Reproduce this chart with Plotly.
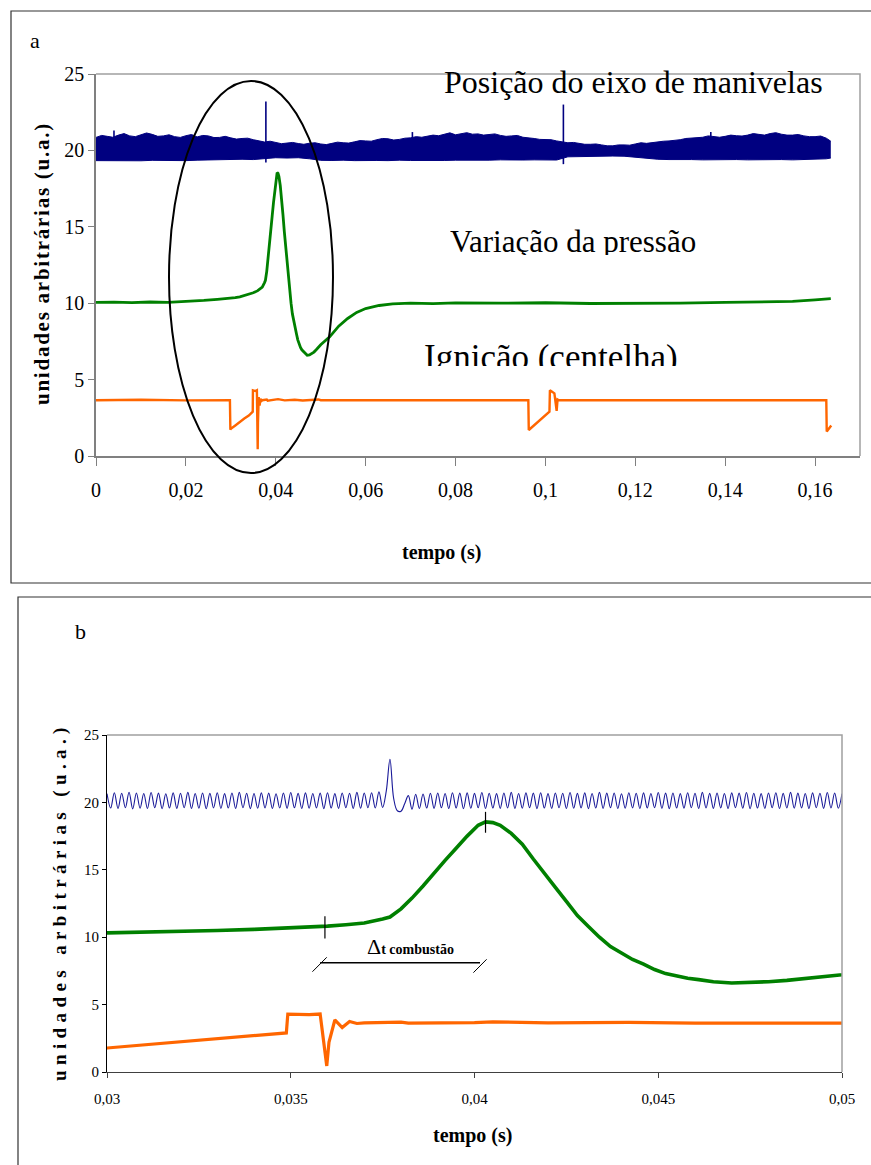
import plotly.graph_objects as go

W, H = 871, 1165

# ---------------- data ----------------
# pressure variation (green), shared by both panels
green_t = [0, 0.004, 0.008, 0.012, 0.016, 0.02, 0.024, 0.027,
           0.03, 0.031, 0.032, 0.033, 0.034, 0.035, 0.036,
           0.0365, 0.037, 0.0375, 0.0377,
           0.038, 0.0383, 0.0386, 0.0389, 0.0392, 0.0395, 0.0398, 0.0401,
           0.0403, 0.0405, 0.0407,
           0.041, 0.0413, 0.0416, 0.0419, 0.0422, 0.0425, 0.0428, 0.0431, 0.0434, 0.0437,
           0.044, 0.0443, 0.0446, 0.0449, 0.0452, 0.0455, 0.0458, 0.0461,
           0.0465, 0.047, 0.0475, 0.048, 0.0485, 0.049, 0.0495, 0.05,
           0.052, 0.054, 0.056, 0.058, 0.06,
           0.063, 0.066, 0.07, 0.075, 0.08,
           0.09, 0.1, 0.11, 0.12, 0.13, 0.14, 0.15,
           0.155, 0.16, 0.1635]
green_v = [10.05, 10.07, 10.04, 10.08, 10.06, 10.1, 10.18, 10.25,
           10.32, 10.36, 10.42, 10.5, 10.58, 10.68, 10.82,
           10.92, 11.05, 11.35, 11.5,
           12.1, 12.9, 13.8, 14.8, 15.7, 16.6, 17.5, 18.3,
           18.55, 18.5, 18.3,
           17.7, 16.9, 15.8, 14.7, 13.7, 12.65, 11.6, 10.8, 10.0, 9.3,
           8.8, 8.35, 8.0, 7.6, 7.3, 7.1, 6.95, 6.85,
           6.7, 6.6, 6.62, 6.7, 6.8, 6.95, 7.1, 7.28,
           7.8, 8.5, 9.0, 9.4, 9.65,
           9.85, 9.95, 10.0, 9.97, 10.02,
           10.0, 10.03, 9.98, 9.97, 10.0, 10.05, 10.1,
           10.12, 10.22, 10.3]

# ignition (orange), shared by both panels
orange_t = [0, 0.01, 0.02, 0.0298, 0.0299,
            0.03, 0.031, 0.032, 0.033, 0.034,
            0.0348, 0.03488, 0.03492, 0.0355, 0.0358,
            0.03592, 0.03598, 0.03604, 0.0362, 0.0364,
            0.0366, 0.0368, 0.037, 0.038, 0.0382,
            0.04, 0.0405, 0.042, 0.0442, 0.046,
            0.048, 0.0495, 0.05, 0.06, 0.08,
            0.0962, 0.0963, 0.1009, 0.1010, 0.1020,
            0.1025, 0.1027, 0.1030, 0.12, 0.14,
            0.1625, 0.1626, 0.1636]
orange_v = [3.65, 3.68, 3.64, 3.65, 1.72,
            1.78, 2.0, 2.25, 2.45, 2.65,
            2.85, 2.9, 4.3, 4.25, 4.3,
            2.0, 0.45, 2.2, 3.86, 3.3,
            3.75, 3.6, 3.65, 3.7, 3.62,
            3.66, 3.72, 3.64, 3.68, 3.63,
            3.65, 3.7, 3.65, 3.66, 3.64,
            3.65, 1.7, 2.9, 4.3, 4.1,
            2.95, 3.7, 3.65, 3.66, 3.64,
            3.65, 1.6, 2.0]

# crankshaft position (top panel): upper envelope of the fast oscillation, every 1.25 ms
env_hi = [20.85, 20.98, 20.92, 20.86, 21.0, 21.1, 20.95, 20.9, 21.02, 21.14,
          21.05, 20.92, 20.95, 21.02, 20.9, 20.85, 20.96, 21.04, 20.88, 20.98,
          20.95, 20.84, 20.85, 20.92, 20.82, 20.74, 20.78, 20.8, 20.7, 20.6,
          20.55, 20.6, 20.52, 20.44, 20.48, 20.52, 20.45, 20.4, 20.47, 20.5,
          20.42, 20.38, 20.46, 20.54, 20.5, 20.48, 20.56, 20.64, 20.62, 20.6,
          20.7, 20.78, 20.76, 20.68, 20.72, 20.8, 20.82, 20.9, 20.86, 20.95,
          21.0, 20.96, 21.06, 21.15, 21.02, 21.1, 21.16, 21.06, 21.08, 21.0,
          21.02, 21.08, 20.98, 20.92, 20.95, 20.98, 20.86, 20.84, 20.78, 20.72,
          20.7, 20.7, 20.62, 20.55, 20.5, 20.52, 20.46, 20.4, 20.4, 20.42,
          20.36, 20.3, 20.3, 20.36, 20.36, 20.34, 20.42, 20.5, 20.46, 20.52,
          20.55, 20.6, 20.62, 20.64, 20.7, 20.78, 20.8, 20.8, 20.86, 20.95,
          20.9, 20.86, 20.92, 21.0, 20.96, 20.94, 21.0, 21.1, 21.05, 21.0,
          21.1, 21.16, 21.06, 21.0, 21.0, 21.04, 20.95, 20.9, 20.9, 20.94,
          20.8, 20.6]
env_hi_t = [0.00125 * i for i in range(131)] + [0.1635]

# lower envelope, every 2.5 ms
env_lo = [19.33, 19.32, 19.34, 19.33, 19.32, 19.35, 19.33, 19.34, 19.33, 19.36,
          19.38, 19.4, 19.4, 19.42, 19.4, 19.45, 19.52, 19.5, 19.52, 19.45,
          19.35, 19.34, 19.36, 19.33, 19.35, 19.34, 19.33, 19.36, 19.34, 19.33,
          19.35, 19.34, 19.36, 19.35, 19.37, 19.36, 19.38, 19.36, 19.37, 19.38,
          19.36, 19.37, 19.58, 19.6, 19.6, 19.62, 19.63, 19.62, 19.55, 19.45,
          19.42, 19.4, 19.42, 19.4, 19.38, 19.4, 19.42, 19.4, 19.38, 19.4,
          19.42, 19.4, 19.38, 19.4, 19.42, 19.45, 19.5]
env_lo_t = [0.0025 * i for i in range(66)] + [0.1635]

# narrow spikes on the crankshaft signal
spike_t = [0.0378, 0.104, 0.004, 0.0704, 0.1368]
spike_lo = [19.2, 19.1, 20.8, 20.8, 20.8]
spike_hi = [23.2, 23.0, 21.3, 21.2, 21.2]

# crankshaft position (bottom panel, zoomed): sampled every 0.1 ms from 0.03 s
blue_b_v = [20.65, 19.58, 20.72, 19.55, 20.68, 19.6, 20.75, 19.52, 20.7, 19.57,
            20.66, 19.55, 20.73, 19.6, 20.69, 19.54, 20.64, 19.58, 20.71, 19.56,
            20.68, 19.6, 20.74, 19.55, 20.66, 19.57, 20.7, 19.53, 20.67, 19.59,
            20.72, 19.56, 20.65, 19.58, 20.7, 19.55, 20.74, 19.6, 20.68, 19.54,
            20.66, 19.57, 20.71, 19.59, 20.69, 19.55, 20.64, 19.58, 20.7, 19.56,
            20.73, 19.6, 20.67, 19.55, 20.71, 19.57, 20.66, 19.59, 20.69, 19.54,
            20.72, 19.58, 20.65, 19.56, 20.7, 19.6, 20.68, 19.55, 20.74, 19.57,
            20.7, 19.6, 20.72, 19.58, 20.78, 19.62, 20.85, 23.2, 20.3, 19.38,
            19.35, 19.9, 20.5, 19.5, 20.6, 19.55, 20.62, 19.58, 20.68, 19.56,
            20.7, 19.6, 20.66, 19.55, 20.72, 19.58, 20.69, 19.54, 20.71, 19.57,
            20.67, 19.6, 20.73, 19.55, 20.68, 19.58, 20.65, 19.56, 20.7, 19.59,
            20.74, 19.55, 20.66, 19.57, 20.71, 19.6, 20.69, 19.54, 20.72, 19.58,
            20.65, 19.56, 20.7, 19.6, 20.68, 19.55, 20.73, 19.57, 20.67, 19.59,
            20.71, 19.54, 20.66, 19.58, 20.74, 19.56, 20.69, 19.6, 20.7, 19.55,
            20.64, 19.57, 20.72, 19.59, 20.68, 19.55, 20.71, 19.58, 20.66, 19.6,
            20.73, 19.56, 20.69, 19.54, 20.7, 19.58, 20.65, 19.57, 20.72, 19.6,
            20.68, 19.55, 20.74, 19.58, 20.67, 19.56, 20.7, 19.59, 20.66, 19.55,
            20.71, 19.6, 20.69, 19.57, 20.73, 19.54, 20.68, 19.58, 20.65, 19.56,
            20.7, 19.6, 20.72, 19.55, 20.67, 19.58, 20.74, 19.57, 20.69, 19.59,
            20.66, 19.55, 20.71, 19.6, 20.68, 19.56, 20.73, 19.58, 20.7, 19.57,
            20.65]
blue_b_t = [0.03 + 0.0001 * i for i in range(len(blue_b_v))]

# axis ticks
top_xticks = [0, 0.02, 0.04, 0.06, 0.08, 0.1, 0.12, 0.14, 0.16]
top_xlabels = ["0", "0,02", "0,04", "0,06", "0,08", "0,1", "0,12", "0,14", "0,16"]
bot_xticks = [0.03, 0.035, 0.04, 0.045, 0.05]
bot_xlabels = ["0,03", "0,035", "0,04", "0,045", "0,05"]
yticks = [0, 5, 10, 15, 20, 25]

# combustion interval markers (bottom panel)
comb_start = (0.03593, 10.85)
comb_peak = (0.0403, 18.55)

# ---------------- figure ----------------
NAVY = "#000080"
GREEN = "#008000"
ORANGE = "#FF6600"
SERIF = "Liberation Serif"


def px(x):
    return x / W


def py(y):
    return 1 - y / H


fig = go.Figure()

# top panel
fig.add_trace(go.Scatter(x=env_lo_t, y=env_lo, mode="lines", line=dict(color=NAVY, width=1),
                         xaxis="x", yaxis="y", hoverinfo="skip"))
fig.add_trace(go.Scatter(x=env_hi_t, y=env_hi, mode="lines", line=dict(color=NAVY, width=1),
                         fill="tonexty", fillcolor=NAVY, xaxis="x", yaxis="y", hoverinfo="skip"))
sx, sy = [], []
for t, lo, hi in zip(spike_t, spike_lo, spike_hi):
    sx += [t, t, None]
    sy += [lo, hi, None]
fig.add_trace(go.Scatter(x=sx, y=sy, mode="lines", line=dict(color=NAVY, width=1.6),
                         xaxis="x", yaxis="y"))
fig.add_trace(go.Scatter(x=green_t, y=green_v, mode="lines", line=dict(color=GREEN, width=2.8),
                         xaxis="x", yaxis="y"))
fig.add_trace(go.Scatter(x=orange_t, y=orange_v, mode="lines", line=dict(color=ORANGE, width=2.4),
                         xaxis="x", yaxis="y"))

# bottom panel
fig.add_trace(go.Scatter(x=blue_b_t, y=blue_b_v, mode="lines", line=dict(color="#1a1a99", width=1.1,
                         shape="spline"), xaxis="x2", yaxis="y2"))
fig.add_trace(go.Scatter(x=green_t, y=green_v, mode="lines", line=dict(color=GREEN, width=3.6),
                         xaxis="x2", yaxis="y2"))
fig.add_trace(go.Scatter(x=orange_t, y=orange_v, mode="lines", line=dict(color=ORANGE, width=3.2),
                         xaxis="x2", yaxis="y2"))

axis_font_top = dict(family=SERIF, size=20, color="black")
axis_font_bot = dict(family=SERIF, size=15, color="black")

fig.update_layout(
    template="none",
    width=W, height=H, margin=dict(l=0, r=0, t=0, b=0, pad=0, autoexpand=False),
    paper_bgcolor="white", plot_bgcolor="white", showlegend=False,
    xaxis=dict(domain=[px(96), px(860)], range=[0, 0.17], anchor="y", automargin=False,
               tickvals=top_xticks, ticktext=top_xlabels, tickfont=axis_font_top,
               showgrid=False, zeroline=False, showline=True, linecolor="#808080", linewidth=1.5,
               ticks="outside", ticklen=8, tickcolor="#808080", ticklabelstandoff=7),
    yaxis=dict(domain=[py(456), py(74)], range=[0, 25], anchor="x", automargin=False,
               tickvals=yticks, tickfont=axis_font_top,
               showgrid=False, zeroline=False, showline=True, linecolor="#808080", linewidth=1.5,
               ticks="outside", ticklen=6, tickcolor="#808080"),
    xaxis2=dict(domain=[px(107), px(842)], range=[0.03, 0.05], anchor="y2", automargin=False,
                tickvals=bot_xticks, ticktext=bot_xlabels, tickfont=axis_font_bot,
                showgrid=False, zeroline=False, showline=True, linecolor="#404040", linewidth=1,
                ticks="outside", ticklen=5, tickcolor="#404040", ticklabelstandoff=8),
    yaxis2=dict(domain=[py(1072), py(735)], range=[0, 25], anchor="x2", automargin=False,
                tickvals=yticks, tickfont=axis_font_bot,
                showgrid=False, zeroline=False, showline=True, linecolor="black", linewidth=1,
                ticks="outside", ticklen=4, tickcolor="black"),
)

shapes = []
# panel frames
shapes.append(dict(type="rect", xref="paper", yref="paper", x0=px(11), x1=px(885), y0=py(583), y1=py(11),
                   line=dict(color="#333333", width=1.2), layer="below"))
shapes.append(dict(type="rect", xref="paper", yref="paper", x0=px(18), x1=px(885), y0=py(1180), y1=py(597),
                   line=dict(color="#333333", width=1.2), layer="below"))
# plot-area borders (top & right, gray)
shapes.append(dict(type="path", xref="x domain", yref="y domain",
                   path="M 0 1 L 1 1 L 1 0", line=dict(color="#a0a0a0", width=1.5)))
shapes.append(dict(type="path", xref="x2 domain", yref="y2 domain",
                   path="M 0 1 L 1 1 L 1 0", line=dict(color="#a0a0a0", width=1.5)))
# ellipse around the combustion event (top panel)
shapes.append(dict(type="circle", xref="paper", yref="paper", x0=px(169), x1=px(333), y0=py(473), y1=py(81),
                   line=dict(color="black", width=2), layer="above"))
# markers of combustion start and pressure peak (bottom panel)
shapes.append(dict(type="line", xref="x2", yref="y2", x0=comb_start[0], x1=comb_start[0],
                   y0=comb_start[1] - 0.95, y1=comb_start[1] + 0.7, line=dict(color="black", width=1.2)))
shapes.append(dict(type="line", xref="x2", yref="y2", x0=comb_peak[0], x1=comb_peak[0],
                   y0=comb_peak[1] - 0.8, y1=comb_peak[1] + 0.75, line=dict(color="black", width=1.2)))
# Δt dimension line
shapes.append(dict(type="line", xref="x2", yref="y2", x0=0.0358, x1=0.04015, y0=8.1, y1=8.1,
                   line=dict(color="black", width=1.5)))
shapes.append(dict(type="line", xref="x2", yref="y2", x0=0.03559, x1=0.03598, y0=7.44, y1=8.51,
                   line=dict(color="black", width=1)))
shapes.append(dict(type="line", xref="x2", yref="y2", x0=0.03997, x1=0.04033, y0=7.37, y1=8.36,
                   line=dict(color="black", width=1)))
fig.update_layout(shapes=shapes)

ann = []


def text(x, y, s, size, bold=False, angle=0, family=SERIF):
    ann.append(dict(xref="paper", yref="paper", x=px(x), y=py(y), text=("<b>%s</b>" % s) if bold else s,
                    showarrow=False, xanchor="center", yanchor="middle", textangle=angle,
                    font=dict(family=family, size=size, color="black")))


def clipped_text(x, ytop, s, size, h):
    # text box whose lower part is cut off, as in the original figure
    ann.append(dict(xref="paper", yref="paper", x=px(x), y=py(ytop), text=s, showarrow=False,
                    xanchor="center", yanchor="top", valign="top", height=h, borderpad=0,
                    font=dict(family=SERIF, size=size, color="black")))


text(35, 40, "a", 22)
text(80, 632, "b", 22)
text(633, 82, "Posição do eixo de manivelas", 32)
clipped_text(573, 223, "Variação da pressão", 31, 31)
clipped_text(551, 337, "Ignição (centelha)", 35, 28)
text(441, 552, "tempo (s)", 20, bold=True)
text(42, 265, "\u200a".join(list("unidades arbitrárias (u.a.)")), 21, bold=True, angle=-90)
spaced = "\u2009\u200a".join(list("unidades arbitrárias (u.a.)"))
text(60, 905, spaced, 19, bold=True, angle=-90)
text(472, 1135, "tempo (s)", 20, bold=True)
ann.append(dict(xref="paper", yref="paper", x=px(410), y=py(946), showarrow=False,
                xanchor="center", yanchor="middle",
                text="<span style='font-size:22px'>Δ</span><b>t combustão</b>",
                font=dict(family=SERIF, size=14, color="black")))
fig.update_layout(annotations=ann)

fig.write_html("out.html", config={"displayModeBar": False},
               post_script="document.body.style.margin='0px';")
